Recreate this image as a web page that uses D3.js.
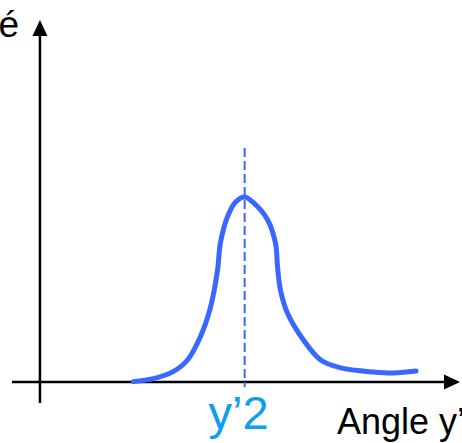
<!DOCTYPE html>
<html>
<head>
<meta charset="utf-8">
<script src="https://cdn.jsdelivr.net/npm/d3@7/dist/d3.min.js"></script>
<style>
  html, body { margin: 0; padding: 0; background: #fff; overflow: hidden; }
  svg { display: block; }
  text { font-family: "Liberation Sans", Arial, Helvetica, sans-serif; }
</style>
</head>
<body>
<script>
// Diffraction peak profile: intensity against angle
const angle     = [22.7, 27.6, 32.4, 35.9, 39.0, 41.5, 43.2, 43.9, 45.6, 47.6, 49.8, 52.0, 55.4, 57.3, 57.8, 58.5, 60.2, 64.1, 68.3, 73.2, 81.2, 86.1, 91.5];
const intensity = [0.2, 1.8, 5.6, 11.9, 24.3, 40.5, 60.5, 75.1, 89.2, 97.3, 100, 96.8, 87.6, 75.1, 62.2, 49.7, 37.3, 22.7, 11.9, 7.6, 5.4, 4.9, 5.9];
const peakAngle = 49.8;
const peakLabel = "y\u20192";
const xTitle = "Angle y\u2019";
const yTitle = "Intensité";

const W = 462, H = 443;
const svg = d3.select("body").append("svg").attr("width", W).attr("height", H);

const x = d3.scaleLinear().domain([-6.8, 100]).range([12, 451]);
const y = d3.scaleLinear().domain([0, 100]).range([382, 197]);

const axisColor = "#000";
const curveColor = "#3868ff";
const labelColor = "#0aa0f0";

// x axis with arrowhead
svg.append("line")
  .attr("x1", x(-6.8)).attr("x2", 446)
  .attr("y1", y(0)).attr("y2", y(0))
  .attr("stroke", axisColor).attr("stroke-width", 2.5);
svg.append("path")
  .attr("d", `M${444},${y(0) - 7.5}L${460},${y(0)}L${444},${y(0) + 7.5}Z`)
  .attr("fill", axisColor);

// y axis with arrowhead
svg.append("line")
  .attr("x1", x(0)).attr("x2", x(0))
  .attr("y1", y(-11.4)).attr("y2", 34)
  .attr("stroke", axisColor).attr("stroke-width", 2.5);
svg.append("path")
  .attr("d", `M${x(0) - 7.5},36L${x(0)},20L${x(0) + 7.5},36Z`)
  .attr("fill", axisColor);

// peak position marker
svg.append("line")
  .attr("x1", x(peakAngle)).attr("x2", x(peakAngle))
  .attr("y1", y(126.5)).attr("y2", y(-2.8))
  .attr("stroke", curveColor).attr("stroke-width", 2)
  .attr("stroke-dasharray", "9,4");

// intensity profile
const line = d3.line()
  .x((d, i) => x(angle[i]))
  .y(d => y(d))
  .curve(d3.curveCatmullRom.alpha(0.5));

svg.append("path")
  .datum(intensity)
  .attr("d", line)
  .attr("fill", "none")
  .attr("stroke", curveColor)
  .attr("stroke-width", 5)
  .attr("stroke-linecap", "round")
  .attr("stroke-linejoin", "round");

// labels
svg.append("text")
  .attr("x", x(peakAngle) - 6).attr("y", 429)
  .attr("text-anchor", "middle")
  .attr("font-size", 47)
  .attr("fill", labelColor)
  .text(peakLabel);

svg.append("text")
  .attr("x", 337).attr("y", 434)
  .attr("font-size", 36)
  .attr("fill", "#000")
  .text(xTitle);

svg.append("text")
  .attr("x", 19).attr("y", 37)
  .attr("text-anchor", "end")
  .attr("font-size", 37)
  .attr("fill", "#000")
  .text(yTitle);
</script>
</body>
</html>
